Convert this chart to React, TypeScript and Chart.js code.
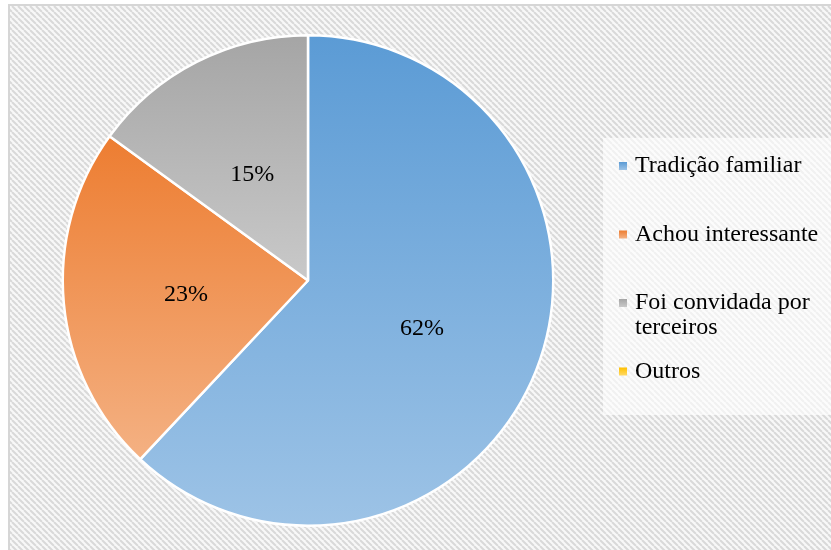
import React, { useEffect, useRef } from "react";
import { Chart, registerables } from "chart.js";

Chart.register(...registerables);

const categories = ["Tradição familiar", "Achou interessante", "Foi convidada por terceiros", "Outros"];
const values = [62, 23, 15, 0];
const topColors = ["#5B9BD5", "#ED7D31", "#A5A5A5", "#FFC000"];
const bottomColors = ["#9DC3E6", "#F4B183", "#C9C9C9", "#FFD966"];

const FONT = "'Liberation Serif', 'Times New Roman', serif";

function sliceBounds(i: number, cy: number, r: number) {
  const total = values.reduce((a, b) => a + b, 0);
  let acc = 0;
  for (let k = 0; k < i; k++) acc += values[k];
  const a0 = -Math.PI / 2 + (acc / total) * 2 * Math.PI;
  const a1 = a0 + (values[i] / total) * 2 * Math.PI;
  let ymin = cy, ymax = cy;
  const steps = 90;
  for (let s = 0; s <= steps; s++) {
    const a = a0 + ((a1 - a0) * s) / steps;
    const y = cy + r * Math.sin(a);
    ymin = Math.min(ymin, y);
    ymax = Math.max(ymax, y);
  }
  return [ymin, ymax];
}

function makePattern(ctx: CanvasRenderingContext2D) {
  const c = document.createElement("canvas");
  const s = 6;
  c.width = s;
  c.height = s;
  const p = c.getContext("2d")!;
  p.fillStyle = "#f8f8f8";
  p.fillRect(0, 0, s, s);
  p.strokeStyle = "#d9d9d9";
  p.lineWidth = 2;
  p.beginPath();
  for (let k = -1; k <= 1; k++) {
    p.moveTo(k * s, 0);
    p.lineTo(k * s + s, s);
  }
  p.stroke();
  return ctx.createPattern(c, "repeat")!;
}

const backgroundPlugin = {
  id: "bgPattern",
  beforeDraw(chart: any) {
    const ctx = chart.ctx as CanvasRenderingContext2D;
    ctx.save();
    ctx.fillStyle = "#ffffff";
    ctx.fillRect(0, 0, chart.width, chart.height);
    ctx.fillStyle = makePattern(ctx);
    ctx.fillRect(10, 6, chart.width - 10, chart.height - 6);
    ctx.strokeStyle = "#d6d6d6";
    ctx.lineWidth = 2;
    ctx.strokeRect(9, 5, chart.width + 10, chart.height + 10);
    // legend box
    ctx.fillStyle = "rgba(255,255,255,0.62)";
    ctx.fillRect(603, 138, chart.width - 603, 277);
    ctx.restore();
  },
};

const labelPlugin = {
  id: "pctLabels",
  afterDatasetsDraw(chart: any) {
    const ctx = chart.ctx as CanvasRenderingContext2D;
    const meta = chart.getDatasetMeta(0);
    const total = values.reduce((a, b) => a + b, 0);
    ctx.save();
    ctx.font = `24px ${FONT}`;
    ctx.fillStyle = "#000000";
    ctx.textAlign = "center";
    ctx.textBaseline = "middle";
    meta.data.forEach((arc: any, i: number) => {
      if (!values[i]) return;
      const p = arc.tooltipPosition();
      ctx.fillText(Math.round((values[i] / total) * 100) + "%", p.x, p.y + 3);
    });
    ctx.restore();
  },
};

const legendPlugin = {
  id: "customLegend",
  afterDraw(chart: any) {
    const ctx = chart.ctx as CanvasRenderingContext2D;
    const x0 = 619;
    const textX = 635;
    const maxW = 195;
    const firstY = 166;
    const pitch = 68.5;
    const lineH = 25;
    ctx.save();
    ctx.font = `24px ${FONT}`;
    ctx.textBaseline = "middle";
    categories.forEach((label, i) => {
      const y = firstY + i * pitch;
      const g = ctx.createLinearGradient(0, y - 4, 0, y + 4);
      g.addColorStop(0, topColors[i]);
      g.addColorStop(1, bottomColors[i]);
      ctx.fillStyle = g;
      ctx.fillRect(x0, y - 4, 8, 8);
      const words = label.split(" ");
      const lines: string[] = [];
      let cur = "";
      words.forEach((w) => {
        const t = cur ? cur + " " + w : w;
        if (ctx.measureText(t).width > maxW && cur) {
          lines.push(cur);
          cur = w;
        } else cur = t;
      });
      if (cur) lines.push(cur);
      ctx.fillStyle = "#000000";
      lines.forEach((ln, j) => ctx.fillText(ln, textX, y + j * lineH));
    });
    ctx.restore();
  },
};

export default function App() {
  const ref = useRef<HTMLCanvasElement>(null);
  useEffect(() => {
    document.body.style.margin = "0";
    const chart = new Chart(ref.current!, {
      type: "pie",
      data: {
        labels: categories,
        datasets: [
          {
            data: values,
            backgroundColor: (c: any) => {
              const chart = c.chart;
              const area = chart.chartArea;
              const i = c.dataIndex;
              if (!area) return topColors[i];
              const cy = (area.top + area.bottom) / 2;
              const r = Math.min(area.right - area.left, area.bottom - area.top) / 2;
              const [y0, y1] = sliceBounds(i, cy, r);
              const g = chart.ctx.createLinearGradient(0, y0, 0, y1 > y0 ? y1 : y0 + 1);
              g.addColorStop(0, topColors[i]);
              g.addColorStop(1, bottomColors[i]);
              return g;
            },
            borderColor: "#ffffff",
            borderWidth: 2.5,
          },
        ],
      },
      options: {
        responsive: false,
        animation: false,
        layout: { padding: { left: 61, right: 276, top: 34, bottom: 23 } },
        plugins: { legend: { display: false }, tooltip: { enabled: false } },
      },
      plugins: [backgroundPlugin, labelPlugin, legendPlugin],
    });
    return () => chart.destroy();
  }, []);
  return (
    <div style={{ position: "fixed", left: 0, top: 0, width: 831, height: 550 }}>
      <canvas ref={ref} width={831} height={550} style={{ display: "block" }} />
    </div>
  );
}
